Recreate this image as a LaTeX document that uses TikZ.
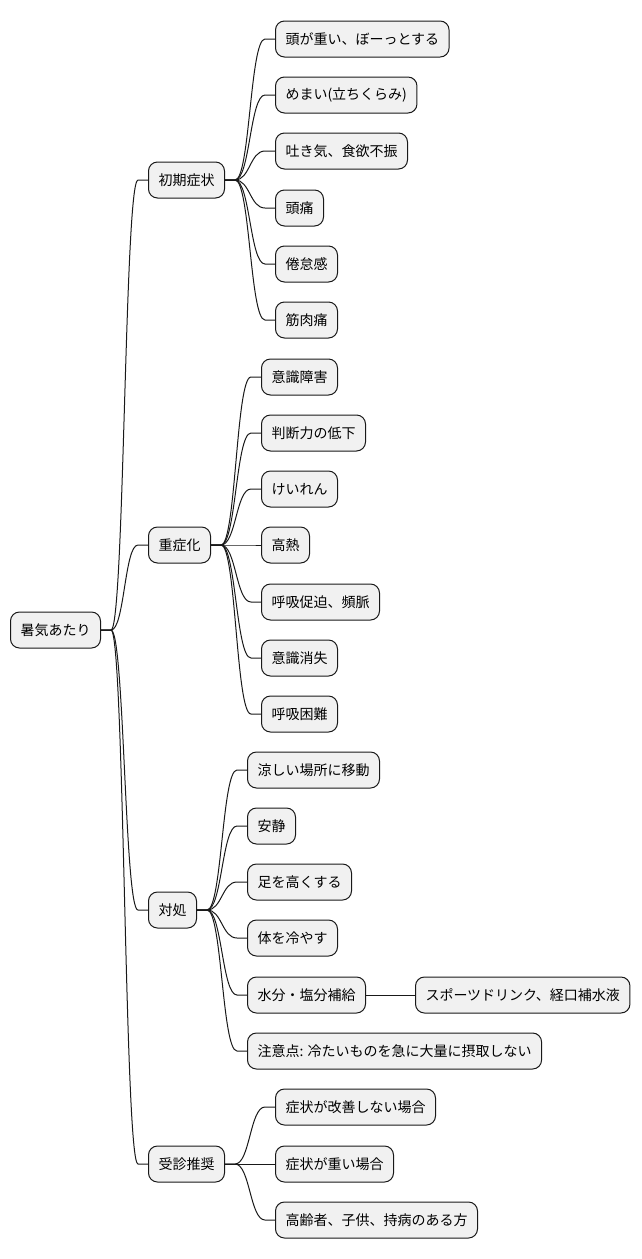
\documentclass[tikz,border=0pt]{standalone}
\usepackage{fontspec}
\setmainfont{Noto Sans CJK JP}
\usetikzlibrary{calc}
\tikzset{
  mm/.style={draw=black!90, fill=black!5.5, rounded corners=9, minimum height=36, inner xsep=10, inner ysep=0, anchor=west, line width=1, font=\fontsize{14}{16}\selectfont, text=black},
  edge/.style={draw=black!90, line width=1}
}
\newcommand\mmconn[2]{%
  \path (#1.east) ++(10,0) coordinate (mmp1);
  \path (#2.west) ++(-10,0) coordinate (mmp2);
  \path ($(mmp1)!0.5!(mmp2)$) coordinate (mmm);
  \draw[edge] (#1.east) -- (mmp1) .. controls (mmm |- mmp1) and (mmm |- mmp2) .. (mmp2) -- (#2.west);
}
\begin{document}
\begin{tikzpicture}[x=1pt,y=-1pt]
\useasboundingbox (0,0) rectangle (642,1259);
\node[mm] (r) at (10,630) {暑気あたり};
\node[mm] (a) at (148,180) {初期症状};
\node[mm] (b) at (148,545) {重症化};
\node[mm] (c) at (148,910) {対処};
\node[mm] (d) at (148,1164) {受診推奨};
% a
\node[mm] (a1) at (275,39) {頭が重い、ぼーっとする};
\node[mm] (a2) at (275,95) {めまい(立ちくらみ)};
\node[mm] (a3) at (275,151) {吐き気、食欲不振};
\node[mm] (a4) at (275,208) {頭痛};
\node[mm] (a5) at (275,264) {倦怠感};
\node[mm] (a6) at (275,320) {筋肉痛};
% b
\node[mm] (b1) at (261,377) {意識障害};
\node[mm] (b2) at (261,433) {判断力の低下};
\node[mm] (b3) at (261,489) {けいれん};
\node[mm] (b4) at (261,545) {高熱};
\node[mm] (b5) at (261,602) {呼吸促迫、頻脈};
\node[mm] (b6) at (261,658) {意識消失};
\node[mm] (b7) at (261,714) {呼吸困難};
% c
\node[mm] (c1) at (247,770) {涼しい場所に移動};
\node[mm] (c2) at (247,826) {安静};
\node[mm] (c3) at (247,882) {足を高くする};
\node[mm] (c4) at (247,938) {体を冷やす};
\node[mm] (c5) at (247,995) {水分・塩分補給};
\node[mm] (c5x) at (415,995) {スポーツドリンク、経口補水液};
\node[mm] (c6) at (247,1051) {注意点: 冷たいものを急に大量に摂取しない};
% d
\node[mm] (d1) at (275,1107) {症状が改善しない場合};
\node[mm] (d2) at (275,1164) {症状が重い場合};
\node[mm] (d3) at (275,1220) {高齢者、子供、持病のある方};
% edges
\foreach \t in {a,b,c,d} {\mmconn{r}{\t}}
\foreach \t in {a1,a2,a3,a4,a5,a6} {\mmconn{a}{\t}}
\foreach \t in {b1,b2,b3,b4,b5,b6,b7} {\mmconn{b}{\t}}
\foreach \t in {c1,c2,c3,c4,c5,c6} {\mmconn{c}{\t}}
\mmconn{c5}{c5x}
\foreach \t in {d1,d2,d3} {\mmconn{d}{\t}}
\end{tikzpicture}
\end{document}
